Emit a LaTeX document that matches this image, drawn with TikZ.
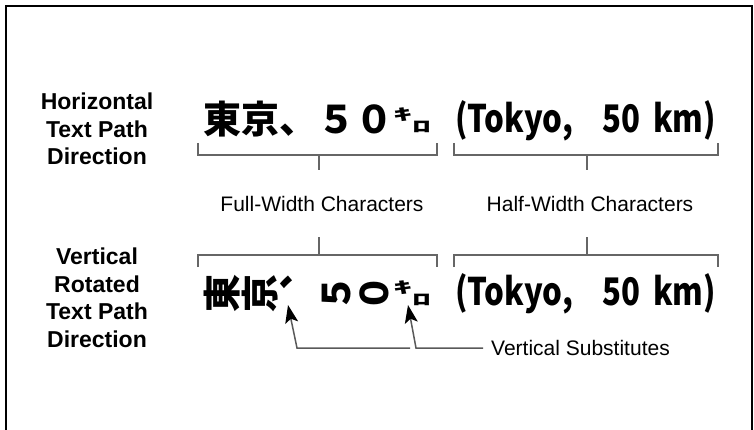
\documentclass[tikz,border=0pt]{standalone}
\usepackage{fontspec}
\usepackage{graphicx}
\setmainfont{Liberation Sans}
\newfontfamily\jpfont{Noto Sans CJK JP}
\usetikzlibrary{arrows.meta}
\newcommand\jcell[1]{\makebox[38pt][c]{#1}}
\newcommand\emchar[1]{\rule[-0.12em]{0pt}{1em}#1}
\newcommand\kiro{\makebox[19pt][c]{\raisebox{13pt}{\scalebox{1}[0.42]{ｷ}}}\makebox[19pt][c]{\raisebox{1pt}{\scalebox{1}[0.42]{ﾛ}}}}
\newcommand\nar[1]{\scalebox{0.82}[1]{#1}}
\newcommand\tokyo{\makebox[147pt][l]{\nar{(Tokyo,}}\makebox[51pt][l]{\nar{50}}\nar{km)}}
\begin{document}
\begin{tikzpicture}[x=1pt,y=-1pt,
  lbl/.style={font=\fontsize{23}{27.5}\selectfont\bfseries, align=center, inner sep=0},
  captxt/.style={font=\fontsize{21}{25}\selectfont, inner sep=0},
  brk/.style={draw=black!60, line width=1.2pt},
  arr/.style={draw=black!65, line width=1.5pt, -{Stealth[length=18pt,width=13pt,inset=4pt,black]}},
  jp/.style={font=\fontsize{38}{40}\selectfont\jpfont\bfseries, inner sep=0},
  rot/.style={jp, rotate=90},
  lat/.style={font=\fontsize{38}{40}\selectfont\jpfont\bfseries, inner sep=0}
]
\useasboundingbox (0,0) rectangle (754,430);
\draw[line width=2.5pt] (6,431) -- (6,6) -- (752,6) -- (752,431);

% left labels
\node[lbl] (hl) at (97,129) {Horizontal\\Text Path\\Direction};
\node[lbl] (vl) at (97,298) {Vertical\\Rotated\\Text Path\\Direction};

% upper line
\node[jp, anchor=base west] (jpu) at (203,134) {\jcell{東}\jcell{京}\jcell{、}\jcell{５}\jcell{０}\kiro};
\node[lat, anchor=base west] (tku) at (455,133) {\tokyo};

% lower line
\node[rot] (l1) at (222,293) {\emchar{東}};
\node[rot] (l2) at (260,293) {\emchar{京}};
\node[rot] (l3) at (298,293) {\emchar{︑}};
\node[rot] (l4) at (336,293) {\emchar{５}};
\node[rot] (l5) at (374,293) {\emchar{０}};
\node[jp, anchor=base west] (lkiro) at (393,306) {\kiro};
\node[lat, anchor=base west] (tkl) at (455,305) {\tokyo};

% brackets
\draw[brk] (198,143) -- (198,155) -- (437,155) -- (437,143);
\draw[brk] (319,155) -- (319,170);
\draw[brk] (454,143) -- (454,155) -- (718,155) -- (718,143);
\draw[brk] (587,155) -- (587,170);
\draw[brk] (198,267) -- (198,255) -- (437,255) -- (437,267);
\draw[brk] (319,255) -- (319,237);
\draw[brk] (454,267) -- (454,255) -- (718,255) -- (718,267);
\draw[brk] (587,255) -- (587,237);

% captions
\node[captxt] (fw) at (322,204) {Full-Width Characters};
\node[captxt] (hw) at (590,204) {Half-Width Characters};
\node[captxt, anchor=west] (vs) at (491,348) {Vertical Substitutes};

% arrows
\coordinate (t1) at (288,305);
\coordinate (t2) at (408,305);
\coordinate (c1) at (297,348);
\coordinate (c1e) at (410,348);
\coordinate (c2) at (416,348);
\draw[arr, shorten <=8pt] (vs.west) -- (c2) -- (t2);
\draw[arr] (c1e) -- (c1) -- (t1);
\end{tikzpicture}
\end{document}
